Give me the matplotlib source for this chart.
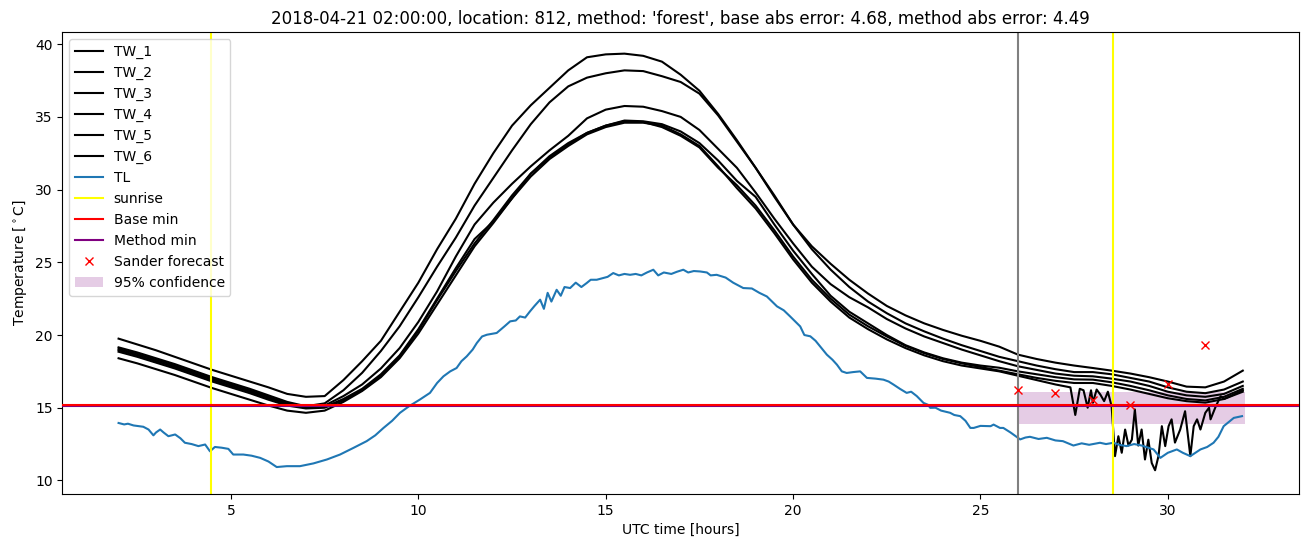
import numpy as np
import matplotlib
matplotlib.use("Agg")
import matplotlib.pyplot as plt

# half-hour grid used for the six TW series
hours = [2 + 0.5 * i for i in range(61)]

tw_1 = [19.75, 19.35, 18.95, 18.5, 18.05, 17.6, 17.2, 16.8, 16.4, 15.95, 15.75, 15.8,
        16.9, 18.2, 19.6, 21.6, 23.6, 25.9, 28.0, 30.4, 32.5, 34.4, 35.8, 37.0, 38.2,
        39.1, 39.3, 39.35, 39.2, 38.8, 37.9, 36.8, 35.2, 33.4, 31.5, 29.6, 27.6, 26.1,
        24.9, 23.8, 22.85, 22.0, 21.35, 20.8, 20.35, 19.95, 19.6, 19.2, 18.65, 18.35,
        18.1, 17.9, 17.73, 17.55, 17.35, 17.1, 16.8, 16.45, 16.4, 16.8, 17.55]
tw_2 = [19.15, 18.8, 18.4, 18.0, 17.55, 17.1, 16.7, 16.3, 15.85, 15.4, 15.1, 15.3,
        16.2, 17.4, 18.9, 20.6, 22.6, 24.7, 26.7, 28.9, 30.8, 32.7, 34.5, 36.0, 37.1,
        37.7, 38.0, 38.2, 38.15, 37.8, 37.4, 36.6, 35.1, 33.3, 31.5, 29.5, 27.6, 25.9,
        24.5, 23.3, 22.3, 21.5, 20.8, 20.25, 19.75, 19.3, 18.9, 18.5, 18.2, 17.9,
        17.65, 17.45, 17.45, 17.3, 17.05, 16.8, 16.4, 16.1, 16.0, 16.25, 16.8]
tw_3 = [19.05, 18.7, 18.3, 17.9, 17.45, 17.0, 16.6, 16.2, 15.75, 15.3, 15.05, 15.15,
        15.8, 16.6, 17.7, 19.1, 20.9, 23.0, 25.4, 27.6, 29.1, 30.4, 31.6, 32.7, 33.7,
        34.9, 35.5, 35.75, 35.7, 35.4, 35.0, 34.1, 32.8, 31.5, 29.8, 28.0, 26.3, 24.7,
        23.5, 22.6, 21.9, 21.1, 20.45, 19.9, 19.45, 19.0, 18.6, 18.2, 17.85, 17.6,
        17.35, 17.2, 17.16, 17.0, 16.8, 16.5, 16.1, 15.85, 15.75, 15.95, 16.5]
tw_4 = [18.95, 18.6, 18.2, 17.8, 17.35, 16.9, 16.5, 16.1, 15.65, 15.25, 15.0, 15.05,
        15.6, 16.3, 17.3, 18.6, 20.4, 22.5, 24.6, 26.6, 27.8, 29.4, 31.1, 32.3, 33.2,
        33.9, 34.4, 34.75, 34.7, 34.5, 34.0, 33.2, 32.0, 30.6, 29.5, 27.6, 25.8, 24.2,
        22.7, 21.6, 20.8, 20.0, 19.3, 18.8, 18.4, 18.1, 17.9, 17.75, 17.5, 17.3,
        17.1, 16.95, 16.93, 16.75, 16.5, 16.2, 15.85, 15.6, 15.5, 15.75, 16.3]
tw_5 = [18.85, 18.5, 18.1, 17.7, 17.25, 16.8, 16.4, 16.0, 15.55, 15.15, 14.95, 15.0,
        15.5, 16.2, 17.2, 18.5, 20.3, 22.4, 24.4, 26.3, 27.9, 29.6, 31.1, 32.2, 33.1,
        33.9, 34.4, 34.7, 34.65, 34.3, 33.7, 32.9, 31.5, 30.3, 28.9, 27.2, 25.4, 23.8,
        22.5, 21.4, 20.6, 19.9, 19.25, 18.75, 18.35, 18.05, 17.8, 17.55, 17.3, 17.05,
        16.85, 16.7, 16.7, 16.5, 16.25, 15.95, 15.65, 15.45, 15.35, 15.6, 16.1]

# TW_6 is the sensor that goes jumpy in the second night, so it gets its own times
tw_6_hours = hours[:51] + [27.3, 27.4, 27.53, 27.65, 27.75, 27.86, 27.95, 28.0, 28.1,
                           28.2, 28.3, 28.4, 28.5, 28.59, 28.68, 28.77, 28.86, 28.95,
                           29.04, 29.12, 29.21, 29.3, 29.39, 29.48, 29.57, 29.66, 29.75,
                           29.84, 29.93, 30.02, 30.1, 30.19, 30.33, 30.46, 30.6, 30.69,
                           30.78, 30.87, 31.0, 31.1, 31.14, 31.28, 31.41, 31.5, 32.0]
tw_6 = [18.4, 18.05, 17.65, 17.25, 16.8, 16.35, 15.95, 15.55, 15.15, 14.8, 14.65, 14.8,
        15.4, 16.15, 17.1, 18.4, 20.1, 22.1, 24.1, 26.1, 27.7, 29.4, 30.9, 32.1, 33.0,
        33.8, 34.3, 34.6, 34.6, 34.4, 33.8, 33.0, 31.6, 30.1, 28.7, 27.0, 25.2, 23.6,
        22.3, 21.2, 20.4, 19.7, 19.1, 18.6, 18.2, 17.9, 17.7, 17.5, 17.2, 16.9, 16.6,
        16.45, 16.4, 14.5, 16.3, 16.2, 15.0, 16.2, 15.34, 16.25, 15.9, 15.45, 16.1, 15.1,
        11.67, 13.04, 11.9, 13.5, 12.4, 12.8, 14.88, 12.4, 13.5, 11.44, 12.8, 11.2, 10.7,
        11.67, 13.73, 12.36, 13.73, 14.2, 12.6, 13.5, 14.76, 11.67, 13.73, 14.2, 13.5,
        14.65, 15.0, 14.2, 15.1, 15.79, 15.6, 16.2]

tl_hours = [2.0, 2.15, 2.25, 2.4, 2.66, 2.8, 2.93, 3.0, 3.11, 3.2, 3.33, 3.51, 3.65, 3.77,
            3.95, 4.13, 4.31, 4.44, 4.57, 4.75, 4.93, 5.06, 5.33, 5.55, 5.78, 6.0, 6.22,
            6.49, 6.84, 7.2, 7.56, 7.91, 8.27, 8.62, 8.85, 9.07, 9.3, 9.51, 9.75, 10.04,
            10.31, 10.5, 10.67, 10.85, 11.02, 11.15, 11.29, 11.45, 11.56, 11.7, 11.83,
            12.09, 12.3, 12.45, 12.6, 12.71, 12.85, 12.98, 13.1, 13.25, 13.35, 13.45,
            13.55, 13.69, 13.8, 13.9, 14.05, 14.2, 14.35, 14.49, 14.6, 14.76, 14.9,
            15.05, 15.2, 15.35, 15.5, 15.65, 15.8, 15.95, 16.1, 16.27, 16.4, 16.55,
            16.75, 16.9, 17.07, 17.2, 17.35, 17.52, 17.7, 17.8, 17.96, 18.2, 18.4,
            18.67, 18.9, 19.1, 19.3, 19.57, 19.75, 19.92, 20.19, 20.3, 20.46, 20.6,
            20.72, 20.9, 21.05, 21.17, 21.3, 21.43, 21.6, 21.79, 21.97, 22.2, 22.41,
            22.55, 22.68, 22.85, 23.03, 23.15, 23.3, 23.48, 23.6, 23.66, 23.8, 23.95,
            24.19, 24.3, 24.46, 24.6, 24.73, 24.82, 25.0, 25.27, 25.35, 25.52, 25.61,
            25.8, 26.06, 26.2, 26.32, 26.55, 26.77, 27.0, 27.2, 27.48, 27.7, 27.9,
            28.19, 28.35, 28.55, 28.7, 28.9, 29.1, 29.3, 29.62, 29.8, 30.0, 30.24,
            30.4, 30.6, 30.87, 31.05, 31.22, 31.35, 31.49, 31.76, 31.98]
tl = [13.95, 13.85, 13.9, 13.78, 13.69, 13.5, 13.1, 13.3, 13.5, 13.3, 13.04, 13.16, 12.9,
      12.59, 12.5, 12.36, 12.47, 12.0, 12.3, 12.25, 12.17, 11.78, 11.78, 11.7, 11.55,
      11.3, 10.92, 10.98, 10.98, 11.17, 11.44, 11.78, 12.24, 12.7, 13.1, 13.61, 14.1,
      14.65, 15.1, 15.56, 16.02, 16.7, 17.16, 17.5, 17.73, 18.2, 18.53, 19.0, 19.45,
      19.9, 20.02, 20.14, 20.6, 20.94, 21.0, 21.28, 21.2, 21.63, 22.0, 22.43, 21.8,
      22.9, 22.3, 23.11, 22.7, 23.3, 23.23, 23.6, 23.3, 23.57, 23.8, 23.8, 23.9, 24.0,
      24.26, 24.1, 24.2, 24.14, 24.2, 24.1, 24.3, 24.49, 24.1, 24.3, 24.2, 24.35,
      24.49, 24.3, 24.4, 24.37, 24.3, 24.1, 24.14, 23.95, 23.6, 23.23, 23.2, 22.9,
      22.65, 21.97, 21.7, 21.28, 20.59, 20.0, 19.91, 19.6, 19.22, 18.65, 18.3, 17.96,
      17.5, 17.39, 17.45, 17.5, 17.05, 17.0, 16.93, 16.8, 16.59, 16.3, 16.02, 16.1,
      15.8, 15.33, 15.2, 14.99, 15.0, 14.8, 14.65, 14.5, 14.42, 14.1, 13.61, 13.61,
      13.75, 13.73, 13.84, 13.61, 13.61, 13.3, 12.82, 12.95, 13.0, 12.85, 12.93,
      12.75, 12.7, 12.4, 12.55, 12.45, 12.59, 12.5, 12.59, 12.45, 12.36, 12.5, 12.4,
      12.13, 11.55, 11.9, 12.13, 11.9, 11.67, 12.13, 12.3, 12.59, 13.0, 13.73, 14.3,
      14.42]

sunrise_hours = [4.47, 28.53]
forecast_start = 26.0
base_min = 15.2
method_min = 15.1
sander_hours = [26, 27, 28, 29, 30, 31]
sander_vals = [16.2, 16.0, 15.5, 15.2, 16.6, 19.3]
conf_hours = [26.0, 32.05]
conf_low = 13.85
conf_high = 16.05

fig, ax = plt.subplots(figsize=(13.1, 5.47), dpi=100)
fig.subplots_adjust(left=0.0476, right=0.9916, top=0.941, bottom=0.097)

tw_series = [(hours, tw_1), (hours, tw_2), (hours, tw_3), (hours, tw_4), (hours, tw_5),
             (tw_6_hours, tw_6)]
for i, (x, y) in enumerate(tw_series):
    ax.plot(x, y, color="black", label=f"TW_{i + 1}")
ax.plot(tl_hours, tl, color="C0", label="TL")

for i, h in enumerate(sunrise_hours):
    ax.axvline(h, color="yellow", label="sunrise" if i == 0 else None)
ax.axvline(forecast_start, color="gray")
ax.axhline(method_min, color="purple", label="Method min", zorder=3)
ax.axhline(base_min, color="red", label="Base min", zorder=4)
ax.plot(sander_hours, sander_vals, "x", color="red", label="Sander forecast", zorder=5)
ax.fill_between(conf_hours, [conf_low] * 2, [conf_high] * 2, color="purple", alpha=0.2,
                lw=0, label="95% confidence")

ax.set_xlim(0.5, 33.5)
ax.set_ylim(9.07, 40.82)
ax.set_xlabel("UTC time [hours]")
ax.set_ylabel(r"Temperature [$^\circ$C]")
ax.set_title("2018-04-21 02:00:00, location: 812, method: 'forest', "
             "base abs error: 4.68, method abs error: 4.49")

handles, labels = ax.get_legend_handles_labels()
order = ["TW_1", "TW_2", "TW_3", "TW_4", "TW_5", "TW_6", "TL", "sunrise", "Base min",
         "Method min", "Sander forecast", "95% confidence"]
lookup = dict(zip(labels, handles))
ax.legend([lookup[k] for k in order], order, loc="upper left")

plt.savefig("out.png")
